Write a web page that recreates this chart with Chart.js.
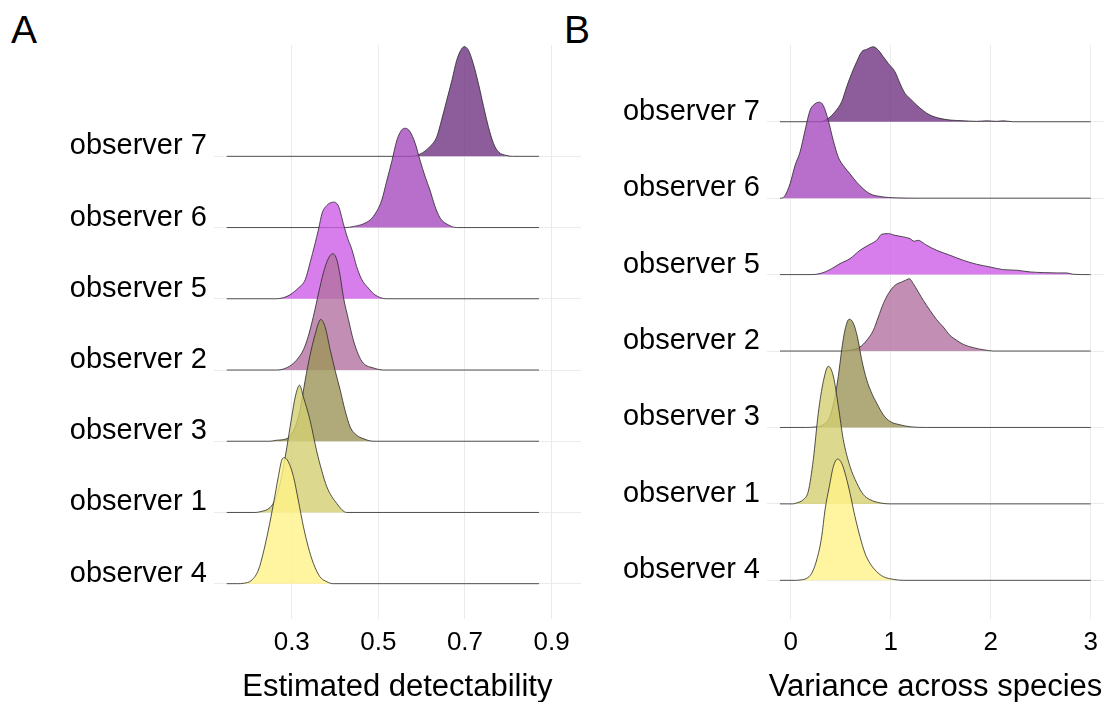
<!DOCTYPE html>
<html lang="en">
<head>
<meta charset="UTF-8">
<title>Observer ridgelines</title>
<script src="https://cdn.jsdelivr.net/npm/chart.js"></script>
<style>
    body {
        margin: 0;
        background: #ffffff;
        font-family: 'Liberation Sans', Arial, sans-serif;
    }
    .panel {
        position: absolute;
        top: 0;
        height: 702px;
    }
    #wrapA { left: 0; width: 600px; }
    #wrapB { left: 560px; width: 552px; }
    .tag {
        position: absolute;
        top: 10px;
        font-size: 39px;
        line-height: 1;
        color: #000;
    }
</style>
</head>
<body>
<div class="tag" style="left:11px">A</div>
<div class="tag" style="left:564px">B</div>
<div class="panel" id="wrapA"><canvas id="chartA"></canvas></div>
<div class="panel" id="wrapB"><canvas id="chartB"></canvas></div>

<script>
// rows from bottom to top
const observers = ['observer 4', 'observer 1', 'observer 3', 'observer 2', 'observer 5', 'observer 6', 'observer 7'];
const fills = [
    'rgba(255,242,136,0.8)',
    'rgba(211,206,114,0.8)',
    'rgba(156,149,89,0.8)',
    'rgba(179,114,161,0.8)',
    'rgba(205,92,231,0.8)',
    'rgba(166,74,190,0.8)',
    'rgba(113,51,130,0.8)'
];

// A: estimated detectability, [x, ridge height]
const ticksA = [0.3, 0.5, 0.7, 0.9];
const rangeA = [0.15, 0.871];
const a4 = [[0.175,0],[0.188,0.005],[0.208,0.051],[0.223,0.192],[0.234,0.426],[0.246,0.754],[0.258,1.128],[0.269,1.502],[0.277,1.736],[0.283,1.769],[0.292,1.713],[0.304,1.502],[0.315,1.174],[0.327,0.8],[0.338,0.52],[0.35,0.285],[0.365,0.098],[0.381,0.028],[0.396,0]];
const a1 = [[0.215,0],[0.227,0.01],[0.25,0.07],[0.261,0.173],[0.273,0.407],[0.285,0.781],[0.3,1.343],[0.308,1.62],[0.318,1.787],[0.327,1.62],[0.342,1.3],[0.358,0.85],[0.369,0.594],[0.381,0.36],[0.404,0.126],[0.427,0]];
const a3 = [[0.25,0],[0.265,0.014],[0.289,0.037],[0.308,0.2],[0.319,0.435],[0.331,0.856],[0.342,1.2],[0.354,1.5],[0.367,1.71],[0.377,1.605],[0.389,1.277],[0.4,0.996],[0.412,0.716],[0.423,0.435],[0.435,0.2],[0.45,0.084],[0.465,0.037],[0.481,0.005],[0.495,0]];
const a2 = [[0.265,0],[0.281,0.014],[0.3,0.075],[0.315,0.168],[0.327,0.285],[0.338,0.47],[0.35,0.753],[0.362,1.08],[0.373,1.363],[0.385,1.572],[0.395,1.633],[0.404,1.549],[0.412,1.315],[0.419,1.034],[0.431,0.707],[0.442,0.426],[0.454,0.215],[0.465,0.098],[0.489,0.028],[0.512,0]];
const a5 = [[0.262,0],[0.277,0.01],[0.296,0.056],[0.315,0.15],[0.331,0.267],[0.342,0.5],[0.354,0.78],[0.362,0.98],[0.37,1.2],[0.381,1.31],[0.396,1.357],[0.408,1.3],[0.419,1.06],[0.429,0.85],[0.439,0.69],[0.45,0.45],[0.462,0.267],[0.477,0.15],[0.492,0.056],[0.519,0]];
const a6 = [[0.425,0],[0.442,0.014],[0.465,0.051],[0.481,0.108],[0.496,0.225],[0.508,0.388],[0.519,0.646],[0.531,0.927],[0.543,1.23],[0.554,1.371],[0.562,1.394],[0.573,1.348],[0.585,1.184],[0.596,0.95],[0.608,0.716],[0.619,0.529],[0.631,0.295],[0.643,0.131],[0.662,0.037],[0.681,0]];
const a7 = [[0.575,0],[0.596,0.03],[0.619,0.136],[0.635,0.276],[0.646,0.51],[0.658,0.79],[0.67,1.07],[0.681,1.35],[0.693,1.516],[0.699,1.54],[0.708,1.49],[0.719,1.306],[0.731,1.025],[0.743,0.7],[0.754,0.42],[0.766,0.18],[0.777,0.066],[0.797,0.01],[0.81,0]];

// B: variance across species
const ticksB = [0, 1, 2, 3];
const rangeB = [-0.107, 3.0];
const b4 = [[0.06,0],[0.093,0.004],[0.16,0.026],[0.21,0.092],[0.26,0.266],[0.31,0.571],[0.343,0.92],[0.386,1.225],[0.426,1.486],[0.47,1.587],[0.51,1.531],[0.553,1.356],[0.593,1.138],[0.643,0.833],[0.693,0.571],[0.743,0.353],[0.793,0.222],[0.86,0.113],[0.926,0.048],[1.026,0.013],[1.126,0]];
const b1 = [[0.02,0],[0.06,0.013],[0.126,0.056],[0.176,0.165],[0.226,0.58],[0.276,1.19],[0.326,1.6],[0.376,1.8],[0.426,1.672],[0.476,1.28],[0.526,0.84],[0.593,0.49],[0.66,0.275],[0.726,0.123],[0.793,0.056],[0.893,0.013],[0.993,0]];
const b3 = [[0.15,0],[0.226,0.004],[0.326,0.035],[0.393,0.144],[0.443,0.406],[0.476,0.667],[0.51,1.016],[0.543,1.278],[0.586,1.417],[0.626,1.365],[0.666,1.19],[0.71,0.886],[0.76,0.624],[0.81,0.449],[0.86,0.318],[0.926,0.166],[0.993,0.079],[1.093,0.035],[1.193,0.009],[1.36,0]];
const b2 = [[0.5,0],[0.593,0.009],[0.693,0.052],[0.76,0.14],[0.826,0.27],[0.876,0.445],[0.926,0.62],[0.976,0.75],[1.043,0.86],[1.11,0.903],[1.16,0.934],[1.186,0.946],[1.226,0.881],[1.276,0.772],[1.326,0.663],[1.393,0.532],[1.46,0.41],[1.526,0.314],[1.593,0.205],[1.66,0.14],[1.726,0.087],[1.826,0.044],[1.926,0.017],[2.026,0]];
const b5 = [[0.193,0],[0.293,0.013],[0.393,0.065],[0.493,0.144],[0.593,0.209],[0.693,0.318],[0.793,0.397],[0.86,0.449],[0.91,0.528],[0.976,0.536],[1.043,0.514],[1.126,0.493],[1.193,0.471],[1.233,0.436],[1.276,0.449],[1.31,0.428],[1.36,0.384],[1.46,0.318],[1.593,0.253],[1.726,0.187],[1.86,0.135],[1.993,0.1],[2.126,0.065],[2.26,0.057],[2.393,0.035],[2.526,0.026],[2.66,0.022],[2.76,0.022],[2.826,0.004],[2.99,0]];
const b6 = [[-0.09,0],[-0.057,0.035],[-0.007,0.187],[0.043,0.427],[0.093,0.602],[0.143,0.885],[0.193,1.147],[0.243,1.234],[0.286,1.256],[0.326,1.212],[0.376,1.016],[0.426,0.754],[0.476,0.536],[0.526,0.427],[0.593,0.318],[0.66,0.209],[0.726,0.122],[0.793,0.057],[0.893,0.022],[1.06,0.004],[1.293,0]];
const b7 = [[0.293,0],[0.376,0.044],[0.443,0.131],[0.51,0.262],[0.56,0.458],[0.61,0.633],[0.66,0.785],[0.71,0.916],[0.76,0.947],[0.826,0.981],[0.876,0.937],[0.926,0.85],[0.976,0.763],[1.043,0.654],[1.093,0.502],[1.143,0.371],[1.193,0.305],[1.26,0.218],[1.326,0.144],[1.393,0.087],[1.493,0.044],[1.593,0.022],[1.726,0.013],[1.86,0.005],[1.96,0.012],[2.06,0.005],[2.126,0.012],[2.226,0]];

function ridges(rows, range) {
    // dataset 0 (bottom row) is drawn last, so lower ridges sit in front
    return rows.map((pts, i) => ({
        label: observers[i],
        data: [{ x: range[0], y: i }]
            .concat(pts.map(p => ({ x: p[0], y: i + p[1] })))
            .concat([{ x: range[1], y: i }]),
        fill: { value: i },
        backgroundColor: fills[i],
        borderColor: 'rgba(40,40,40,0.8)',
        borderWidth: 1,
        pointRadius: 0,
        cubicInterpolationMode: 'monotone'
    }));
}

function makeChart(id, cfg) {
    return new Chart(document.getElementById(id), {
        type: 'line',
        data: { datasets: ridges(cfg.rows, cfg.range) },
        options: {
            responsive: true,
            maintainAspectRatio: false,
            animation: false,
            layout: { padding: { top: 45, right: cfg.padRight, bottom: 0, left: 0 } },
            plugins: { legend: { display: false }, tooltip: { enabled: false } },
            scales: {
                x: {
                    type: 'linear',
                    min: cfg.xMin,
                    max: cfg.xMax,
                    afterBuildTicks: s => { s.ticks = cfg.ticks.map(v => ({ value: v })); },
                    afterFit: s => { s.height = 82.7; },
                    ticks: {
                        color: '#000',
                        font: { family: "'Liberation Sans', Arial", size: 26 },
                        padding: 8,
                        maxRotation: 0,
                        callback: cfg.fmt
                    },
                    grid: { color: '#ebebeb', drawTicks: false },
                    border: { display: false },
                    title: {
                        display: true,
                        text: cfg.title,
                        color: '#000',
                        font: { family: "'Liberation Sans', Arial", size: 31 },
                        padding: { top: 0, bottom: -4 }
                    }
                },
                y: {
                    type: 'linear',
                    min: cfg.yMin,
                    max: cfg.yMax,
                    afterBuildTicks: s => { s.ticks = observers.map((_, i) => ({ value: i })); },
                    afterFit: s => { s.width = cfg.axisWidth; },
                    ticks: {
                        color: '#000',
                        font: { family: "'Liberation Sans', Arial", size: 29 },
                        padding: 7,
                        labelOffset: -10,
                        callback: v => observers[v]
                    },
                    grid: { color: '#ebebeb', drawTicks: false },
                    border: { display: false }
                }
            }
        }
    });
}

makeChart('chartA', {
    rows: [a4, a1, a3, a2, a5, a6, a7],
    range: rangeA,
    ticks: ticksA,
    fmt: v => v.toFixed(1),
    title: 'Estimated detectability',
    xMin: 0.12, xMax: 0.968,
    yMin: -0.5, yMax: 7.563,
    axisWidth: 213.8,
    padRight: 19
});

makeChart('chartB', {
    rows: [b4, b1, b3, b2, b5, b6, b7],
    range: rangeB,
    ticks: ticksB,
    fmt: v => String(v),
    title: 'Variance across species',
    xMin: -0.237, xMax: 3.133,
    yMin: -0.51, yMax: 7.004,
    axisWidth: 207,
    padRight: 8
});
</script>
</body>
</html>
